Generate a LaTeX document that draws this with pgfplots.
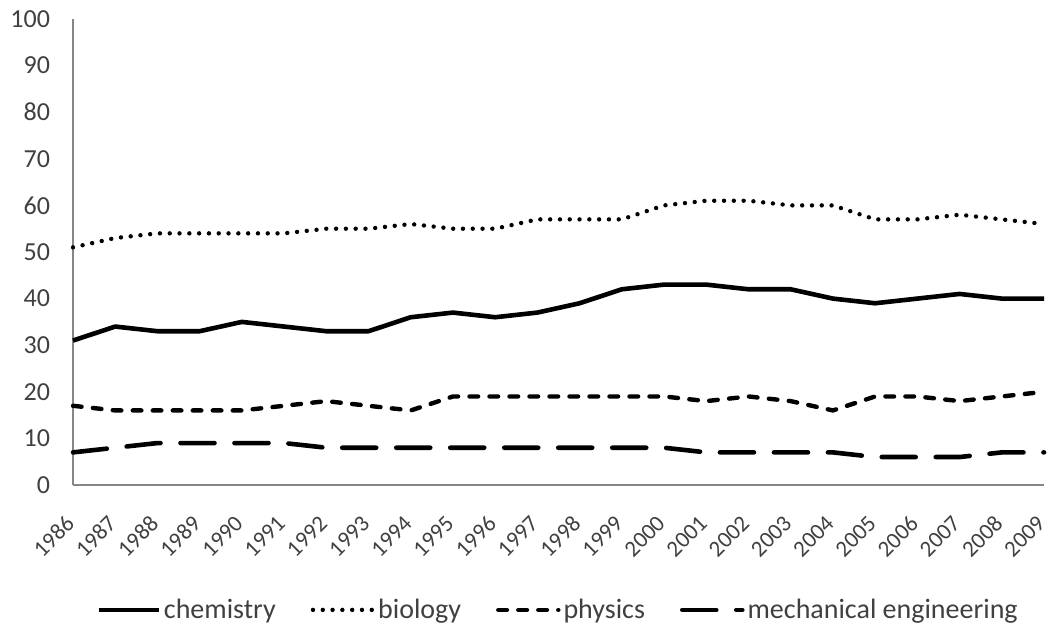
\documentclass[border=0pt]{standalone}
\usepackage{fontspec}
\setmainfont{Carlito}
\usepackage{pgfplots}
\pgfplotsset{compat=1.18}
\definecolor{axgray}{HTML}{868686}
\definecolor{txt}{HTML}{404040}
\begin{document}
\begin{tikzpicture}
\begin{axis}[
  scale only axis,
  width=485.5bp, height=233bp,
  xmin=1986, xmax=2009, ymin=0, ymax=100,
  axis x line*=bottom, axis y line*=left,
  axis line style={axgray, line width=0.7bp},
  xtick={1986,...,2009}, ytick={0,10,...,100},
  major tick length=0pt,
  tick style={draw=none},
  /pgf/number format/assume math mode=true,
  /pgf/number format/1000 sep={},
  tick label style={text=txt},
  y tick label style={font=\fontsize{13bp}{15bp}\selectfont, xshift=-8bp},
  x tick label style={font=\fontsize{11.5bp}{13bp}\selectfont, xshift=1bp, yshift=-15bp, rotate=45, anchor=east},
  clip=false,
  legend columns=-1,
  legend style={at={(0.5,-0.268)}, anchor=center, draw=none, fill=none,
    font=\fontsize{14bp}{16bp}\selectfont, text=txt,
    /tikz/every even column/.append style={column sep=16bp},
    nodes={inner sep=1.5bp}},
  legend image code/.code={\draw[#1] (0bp,0bp) -- (30bp,0bp);},
]
\addplot[black, line width=2.3bp, line join=round] coordinates {
(1986,31)(1987,34)(1988,33)(1989,33)(1990,35)(1991,34)(1992,33)(1993,33)
(1994,36)(1995,37)(1996,36)(1997,37)(1998,39)(1999,42)(2000,43)(2001,43)
(2002,42)(2003,42)(2004,40)(2005,39)(2006,40)(2007,41)(2008,40)(2009,40)};
\addlegendentry{chemistry}
\addplot[black, line width=2.2bp, line cap=round, dash pattern=on 0bp off 4.9bp] coordinates {
(1986,51)(1987,53)(1988,54)(1989,54)(1990,54)(1991,54)(1992,55)(1993,55)
(1994,56)(1995,55)(1996,55)(1997,57)(1998,57)(1999,57)(2000,60)(2001,61)
(2002,61)(2003,60)(2004,60)(2005,57)(2006,57)(2007,58)(2008,57)(2009,56)};
\addlegendentry{biology}
\addplot[black, line width=2.2bp, line cap=round, dash pattern=on 4.3bp off 5.7bp] coordinates {
(1986,17)(1987,16)(1988,16)(1989,16)(1990,16)(1991,17)(1992,18)(1993,17)
(1994,16)(1995,19)(1996,19)(1997,19)(1998,19)(1999,19)(2000,19)(2001,18)
(2002,19)(2003,18)(2004,16)(2005,19)(2006,19)(2007,18)(2008,19)(2009,20)};
\addlegendentry{physics}
\addplot[black, line width=2.3bp, line cap=round, dash pattern=on 17bp off 10bp] coordinates {
(1986,7)(1987,8)(1988,9)(1989,9)(1990,9)(1991,9)(1992,8)(1993,8)
(1994,8)(1995,8)(1996,8)(1997,8)(1998,8)(1999,8)(2000,8)(2001,7)
(2002,7)(2003,7)(2004,7)(2005,6)(2006,6)(2007,6)(2008,7)(2009,7)};
\addlegendentry{mechanical engineering}
\end{axis}
\pgfresetboundingbox
\path (-36.5bp,-72bp) rectangle (487.5bp,242.5bp);
\end{tikzpicture}
\end{document}
